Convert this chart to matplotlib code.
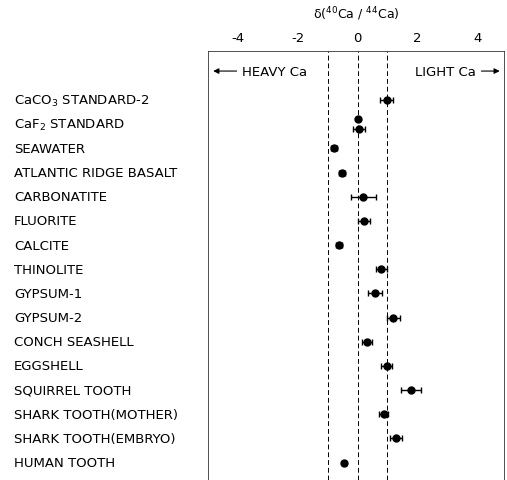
import matplotlib
matplotlib.use("Agg")
import matplotlib.pyplot as plt
from matplotlib.transforms import blended_transform_factory

# sample names, top to bottom
samples = [
    "CaCO$_3$ STANDARD-2",
    "CaF$_2$ STANDARD",
    "SEAWATER",
    "ATLANTIC RIDGE BASALT",
    "CARBONATITE",
    "FLUORITE",
    "CALCITE",
    "THINOLITE",
    "GYPSUM-1",
    "GYPSUM-2",
    "CONCH SEASHELL",
    "EGGSHELL",
    "SQUIRREL TOOTH",
    "SHARK TOOTH(MOTHER)",
    "SHARK TOOTH(EMBRYO)",
    "HUMAN TOOTH",
]

# measurements: which sample, delta(40Ca/44Ca) and its error (per mil)
point_sample = [0, 1, 1, 2, 3, 4, 5, 6, 7, 8, 9, 10, 11, 12, 13, 14, 15]
point_delta = [0.97, 0.0, 0.05, -0.77, -0.53, 0.2, 0.23, -0.63, 0.8, 0.58,
               1.2, 0.33, 0.97, 1.8, 0.87, 1.3, -0.45]
point_err = [0.22, 0.0, 0.2, 0.1, 0.1, 0.43, 0.2, 0.1, 0.19, 0.23,
             0.23, 0.17, 0.17, 0.33, 0.16, 0.2, 0.08]

ref_lines = [-1, 0, 1]
xticks = [-4, -2, 0, 2, 4]

fig = plt.figure(figsize=(5.07, 4.81), dpi=100)
ax = fig.add_axes([0.4103, 0.0, 0.5838, 0.8919])

# spread repeated measurements of one sample a little apart vertically
rows = []
for i, s in enumerate(point_sample):
    n = point_sample.count(s)
    k = point_sample[:i].count(s)
    off = 0.0 if n == 1 else (-0.2 + 0.4 * k / (n - 1))
    rows.append(s + off)

for x in ref_lines:
    ax.axvline(x, color="black", lw=0.7, ls=(0, (5, 3)), zorder=1)

for x, y, e in zip(point_delta, rows, point_err):
    ax.errorbar(x, y, xerr=e if e > 0 else None, fmt="o", color="black",
                ms=5, elinewidth=1.0, capsize=2, capthick=1.0, zorder=3)

ax.set_xlim(-5.0, 4.9)
ax.set_ylim(15.72, -2.03)

ax.spines["bottom"].set_visible(False)
for side in ("top", "left", "right"):
    ax.spines[side].set_linewidth(0.6)
    ax.spines[side].set_color("#333333")

ax.xaxis.tick_top()
ax.set_xticks(xticks)
ax.set_xticklabels([str(t) for t in xticks], fontsize=9.5)
ax.tick_params(axis="x", length=0, pad=5)
ax.set_yticks([])

ax.set_title("δ($^{40}$Ca / $^{44}$Ca)", fontsize=9, pad=24)

# sample labels on the left, outside the axes
trans = blended_transform_factory(fig.transFigure, ax.transData)
for i, name in enumerate(samples):
    ax.text(14 / 507, i, name, transform=trans, ha="left", va="center",
            fontsize=9.5, clip_on=False)

# direction hints
ax.annotate("", xy=(-4.92, -1.2), xytext=(-3.95, -1.2),
            arrowprops=dict(arrowstyle="-|>", color="black", lw=0.8,
                            mutation_scale=8))
ax.text(-3.85, -1.2, "HEAVY Ca", ha="left", va="center", fontsize=9.5)
ax.text(3.95, -1.2, "LIGHT Ca", ha="right", va="center", fontsize=9.5)
ax.annotate("", xy=(4.85, -1.2), xytext=(4.05, -1.2),
            arrowprops=dict(arrowstyle="-|>", color="black", lw=0.8,
                            mutation_scale=8))

fig.savefig("out.png", dpi=100)
